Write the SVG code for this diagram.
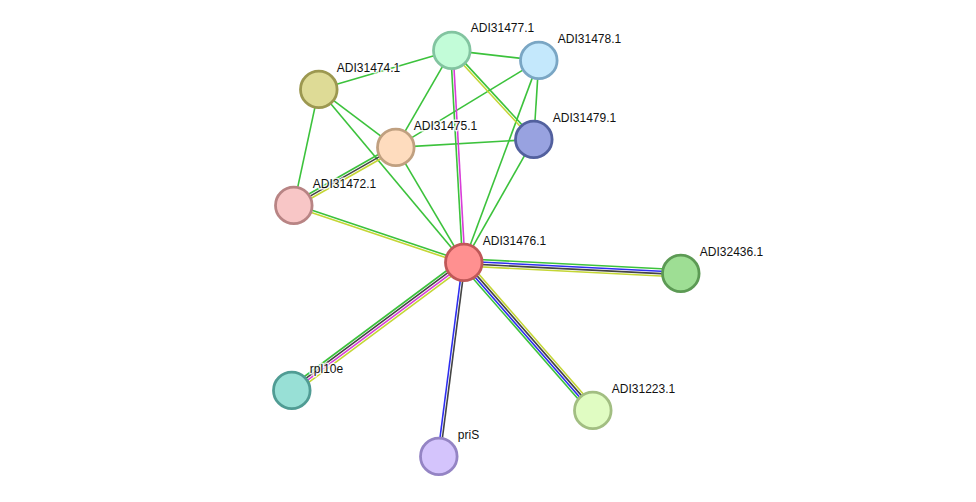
<svg xmlns="http://www.w3.org/2000/svg" width="976" height="502" viewBox="0 0 976 502">
<style>
.e{fill:none;stroke-width:1.6}
.g{stroke:#3cc23c}.b{stroke:#2e2ef0}.k{stroke:#444}.m{stroke:#d83cd8}.y{stroke:#c4d634}
.n{stroke-width:2.8}
.t{font-family:"Liberation Sans",Arial,sans-serif;font-size:12px;fill:#111;stroke:#fff;stroke-width:3;stroke-opacity:0.8;paint-order:stroke;stroke-linejoin:round}
</style>
<rect width="976" height="502" fill="#fff"/>
<g transform="translate(0.8,0.4)">
<g id="connectors">
<line class="e g" x1="318" y1="89" x2="451" y2="50"/>
<line class="e g" x1="451" y1="50" x2="538" y2="60"/>
<line class="e g" x1="451" y1="50" x2="395" y2="147"/>
<line class="e g" x1="538" y1="60" x2="395" y2="147"/>
<line class="e g" x1="538" y1="60" x2="533" y2="139"/>
<line class="e g" x1="538" y1="60" x2="463" y2="262"/>
<line class="e g" x1="318" y1="89" x2="395" y2="147"/>
<line class="e g" x1="318" y1="89" x2="293" y2="205"/>
<line class="e g" x1="318" y1="89" x2="463" y2="262"/>
<line class="e g" x1="395" y1="147" x2="533" y2="139"/>
<line class="e g" x1="395" y1="147" x2="463" y2="262"/>
<line class="e g" x1="533" y1="139" x2="463" y2="262"/>
<line class="e y" x1="450.12" y1="50.81" x2="532.12" y2="139.81"/>
<line class="e g" x1="451.88" y1="49.19" x2="533.88" y2="138.19"/>
<line class="e g" x1="449.8" y1="50.07" x2="461.8" y2="262.07"/>
<line class="e m" x1="452.2" y1="49.93" x2="464.2" y2="261.93"/>
<line class="e g" x1="291.81" y1="202.91" x2="393.81" y2="144.91"/>
<line class="e k" x1="293" y1="205" x2="395" y2="147"/>
<line class="e y" x1="294.19" y1="207.09" x2="396.19" y2="149.09"/>
<line class="e g" x1="463.38" y1="260.86" x2="293.38" y2="203.86"/>
<line class="e y" x1="462.62" y1="263.14" x2="292.62" y2="206.14"/>
<line class="e g" x1="463.2" y1="258.4" x2="680.2" y2="269.4"/>
<line class="e b" x1="463.06" y1="260.8" x2="680.06" y2="271.8"/>
<line class="e k" x1="462.94" y1="263.2" x2="679.94" y2="274.2"/>
<line class="e y" x1="462.8" y1="265.6" x2="679.8" y2="276.6"/>
<line class="e y" x1="465.71" y1="259.63" x2="594.71" y2="407.63"/>
<line class="e k" x1="463.9" y1="261.21" x2="592.9" y2="409.21"/>
<line class="e b" x1="462.1" y1="262.79" x2="591.1" y2="410.79"/>
<line class="e g" x1="460.29" y1="264.37" x2="589.29" y2="412.37"/>
<line class="e b" x1="461.81" y1="261.85" x2="436.81" y2="455.85"/>
<line class="e k" x1="464.19" y1="262.15" x2="439.19" y2="456.15"/>
<line class="e g" x1="460.85" y1="259.11" x2="288.85" y2="387.11"/>
<line class="e k" x1="462.28" y1="261.04" x2="290.28" y2="389.04"/>
<line class="e m" x1="463.72" y1="262.96" x2="291.72" y2="390.96"/>
<line class="e y" x1="465.15" y1="264.89" x2="293.15" y2="392.89"/>
</g>
<g id="ADI31477.1"><circle class="n" cx="451" cy="50" r="18.3" fill="#c2fcd8" stroke="#82c4a0"/><text class="t" x="470" y="32">ADI31477.1</text></g>
<g id="ADI31478.1"><circle class="n" cx="538" cy="60" r="18.3" fill="#c4e8fc" stroke="#7aa6c4"/><text class="t" x="557" y="43">ADI31478.1</text></g>
<g id="ADI31474.1"><circle class="n" cx="318" cy="89" r="18.3" fill="#dedb96" stroke="#9c9850"/><text class="t" x="336" y="72">ADI31474.1</text></g>
<g id="ADI31475.1"><circle class="n" cx="395" cy="147" r="18.3" fill="#fedcbe" stroke="#c0a080"/><text class="t" x="413" y="130">ADI31475.1</text></g>
<g id="ADI31479.1"><circle class="n" cx="533" cy="139" r="18.3" fill="#98a2e0" stroke="#52609e"/><text class="t" x="552" y="122">ADI31479.1</text></g>
<g id="ADI31472.1"><circle class="n" cx="293" cy="205" r="18.3" fill="#f8c6c6" stroke="#b88484"/><text class="t" x="312" y="188">ADI31472.1</text></g>
<g id="ADI31476.1"><circle class="n" cx="463" cy="262" r="18.3" fill="#ff9090" stroke="#c05858"/><text class="t" x="482" y="245">ADI31476.1</text></g>
<g id="ADI32436.1"><circle class="n" cx="680" cy="273" r="18.3" fill="#9ede94" stroke="#5c9a54"/><text class="t" x="699" y="256">ADI32436.1</text></g>
<g id="rpl10e"><circle class="n" cx="291" cy="390" r="18.3" fill="#98e0d6" stroke="#509c94"/><text class="t" x="309" y="373">rpl10e</text></g>
<g id="priS"><circle class="n" cx="438" cy="456" r="18.3" fill="#d4c4fc" stroke="#9484c4"/><text class="t" x="457" y="439">priS</text></g>
<g id="ADI31223.1"><circle class="n" cx="592" cy="410" r="18.3" fill="#e0fcc2" stroke="#a2be82"/><text class="t" x="611" y="393">ADI31223.1</text></g>
</g>
</svg>
